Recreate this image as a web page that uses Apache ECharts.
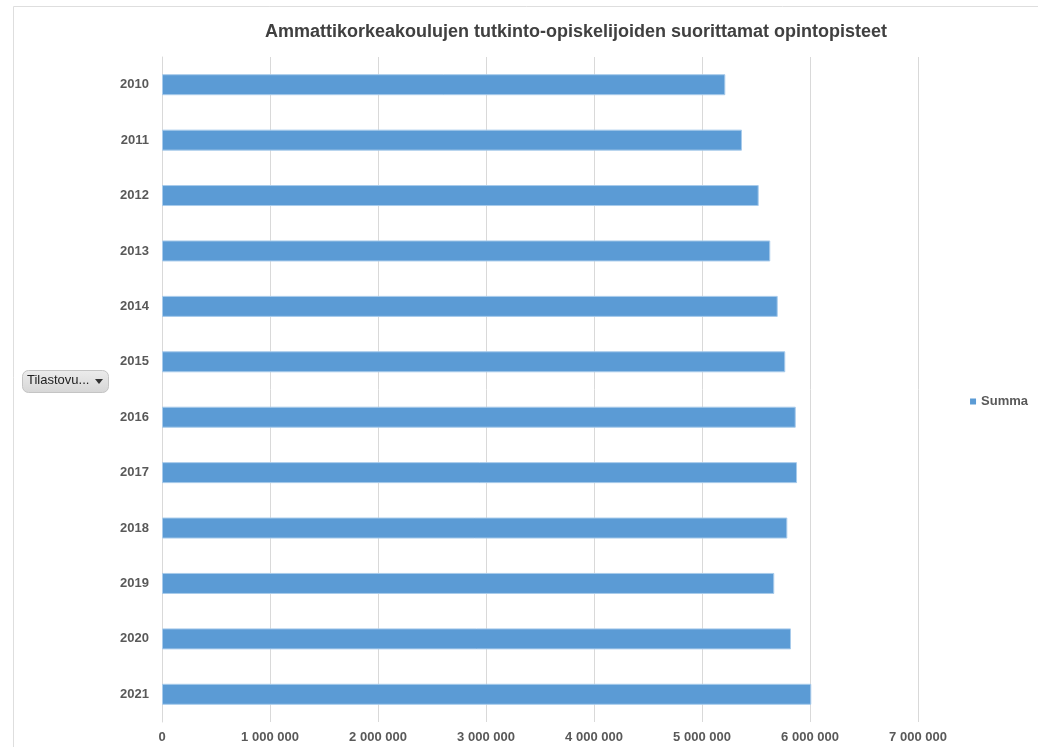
<!DOCTYPE html>
<html>
<head>
<meta charset="utf-8">
<title>Ammattikorkeakoulujen opintopisteet</title>
<script src="https://cdn.jsdelivr.net/npm/echarts@6/dist/echarts.min.js"></script>
<style>
  html, body { margin: 0; padding: 0; background: #ffffff; }
  #chart { width: 1038px; height: 747px; }
</style>
</head>
<body>
<div id="chart"></div>
<script>
// Study credits completed by degree students at universities of applied sciences
const years = ['2010', '2011', '2012', '2013', '2014', '2015', '2016', '2017', '2018', '2019', '2020', '2021'];
const summa = [5216000, 5370000, 5525000, 5632000, 5701000, 5771000, 5868000, 5880000, 5790000, 5669000, 5824000, 6012000];
const xTicks = [0, 1000000, 2000000, 3000000, 4000000, 5000000, 6000000, 7000000];

const titleText = 'Ammattikorkeakoulujen tutkinto-opiskelijoiden suorittamat opintopisteet';
const seriesName = 'Summa';
const filterLabel = 'Tilastovu...';

const fmt = v => String(v).replace(/\B(?=(\d{3})+(?!\d))/g, ' ');
const font = 'Liberation Sans, Arial, sans-serif';

const chart = echarts.init(document.getElementById('chart'), null, { renderer: 'canvas' });
chart.setOption({
  backgroundColor: '#ffffff',
  animation: false,
  title: {
    text: titleText,
    left: 571,
    textAlign: 'center',
    top: 18,
    textStyle: { fontFamily: font, fontSize: 18, fontWeight: 'bold', color: '#404040' }
  },
  legend: {
    data: [seriesName],
    right: 5,
    top: 390,
    itemWidth: 6,
    itemHeight: 6,
    itemGap: 5,
    icon: 'rect',
    itemStyle: { borderWidth: 0 },
    textStyle: { fontFamily: font, fontSize: 13, fontWeight: 'bold', color: '#595959' }
  },
  grid: { left: 162, right: 120, top: 57, bottom: 25, containLabel: false },
  xAxis: {
    type: 'value',
    min: xTicks[0],
    max: xTicks[xTicks.length - 1],
    interval: xTicks[1] - xTicks[0],
    axisLine: { show: false },
    axisTick: { show: false },
    splitLine: { show: true, lineStyle: { color: '#d9d9d9', width: 1 } },
    axisLabel: {
      margin: 9,
      fontFamily: font, fontSize: 13, fontWeight: 'bold', color: '#595959',
      formatter: v => fmt(v)
    }
  },
  yAxis: {
    type: 'category',
    data: years,
    inverse: true,
    axisLine: { show: true, lineStyle: { color: '#d9d9d9', width: 1 } },
    axisTick: { show: false },
    axisLabel: {
      margin: 13,
      fontFamily: font, fontSize: 13, fontWeight: 'bold', color: '#595959'
    }
  },
  series: [{
    name: seriesName,
    type: 'bar',
    data: summa,
    barWidth: 21,
    itemStyle: { color: '#5b9bd5', borderColor: '#a8cbeb', borderWidth: 1 }
  }],
  graphic: [
    // outer chart frame
    { type: 'rect', shape: { x: 13.5, y: 6.5, width: 1040, height: 760 },
      style: { fill: 'none', stroke: '#dedede', lineWidth: 1 }, silent: true },
    // field filter button
    { type: 'rect', shape: { x: 22.5, y: 370.5, width: 86, height: 22, r: 6 },
      style: {
        fill: new echarts.graphic.LinearGradient(0, 0, 0, 1, [
          { offset: 0, color: '#ececec' }, { offset: 1, color: '#d6d6d6' }
        ]),
        stroke: '#c4c4c4', lineWidth: 1
      } },
    { type: 'text', left: 27, top: 374,
      style: { text: filterLabel, font: '13px ' + font, fill: '#222222' } },
    { type: 'polygon', shape: { points: [[95, 379], [103, 379], [99, 384]] },
      style: { fill: '#333333' } }
  ]
});
</script>
</body>
</html>
